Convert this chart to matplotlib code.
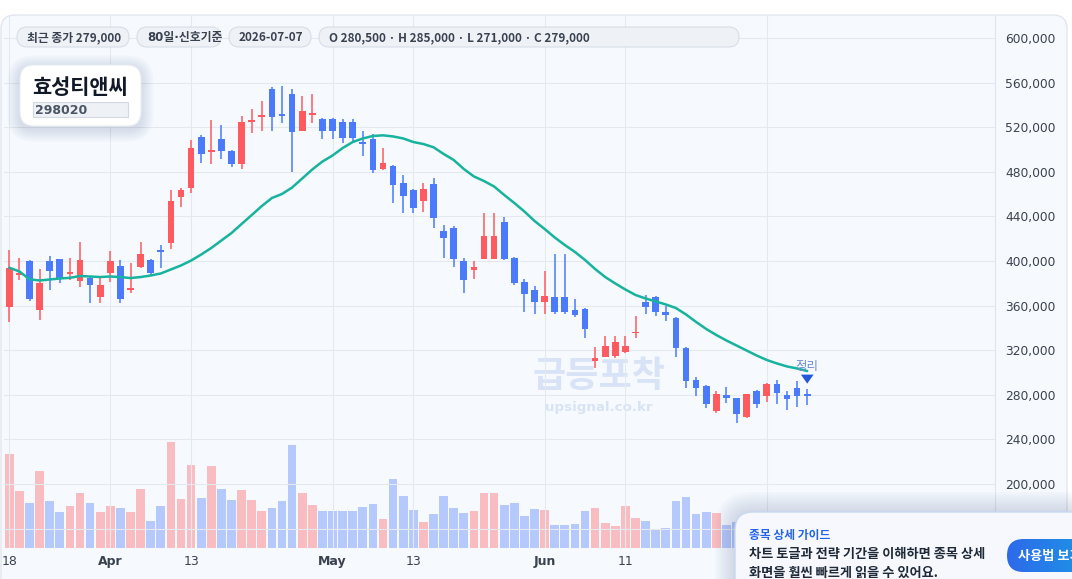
import numpy as np
import pandas as pd
import matplotlib
matplotlib.use('Agg')
import matplotlib.pyplot as plt
from matplotlib.patches import FancyBboxPatch, Rectangle
from matplotlib.colors import LinearSegmentedColormap
from matplotlib.ticker import FuncFormatter

KR = ['Noto Sans CJK KR', 'DejaVu Sans']

# 80 trading days, 2026-03-18 .. 2026-07-07
dates = pd.bdate_range('2026-03-18', '2026-07-07')

opens = [359000, 387400, 400000, 356000, 400000, 401800, 388500, 382300, 385000, 368000,
         389500, 395500, 374000, 394900, 400900, 409400, 416400, 457100, 465700, 510900,
         498000, 509100, 498600, 486700, 525100, 529100, 554300, 531500, 549800, 516900,
         531400, 527100, 527100, 524700, 524700, 506700, 509400, 482200, 485200, 469700,
         463700, 453800, 469100, 426900, 429600, 400000, 392200, 401800, 401800, 435200,
         402900, 381200, 374000, 362900, 367400, 367400, 356000, 356900, 310600, 314200,
         314800, 318600, 335100, 363500, 368000, 354500, 349100, 322200, 293300, 287900,
         265700, 279800, 276800, 259800, 283400, 279200, 289700, 279800, 286400, 280500]
highs = [409900, 402400, 400500, 392800, 404500, 402200, 402900, 417000, 386000, 384500,
         408900, 400900, 397900, 417000, 401500, 414300, 463700, 465700, 508500, 513000,
         526500, 522000, 499500, 530000, 536000, 543500, 556000, 557000, 554300, 548000,
         549800, 528000, 528500, 527100, 527100, 516600, 513600, 501300, 486100, 477100,
         464600, 470200, 474700, 432300, 431400, 402400, 400300, 443300, 443300, 439700,
         403500, 384100, 377600, 391300, 406300, 406300, 365900, 357500, 322600, 332700,
         332700, 332700, 350700, 369500, 368500, 359900, 349500, 322500, 295700, 288800,
         283400, 286700, 277500, 281000, 284300, 290300, 293300, 283400, 292400, 285000]
lows = [345600, 382900, 364400, 347100, 374000, 380500, 382900, 376400, 362600, 362600,
        381400, 362000, 371600, 394000, 386500, 394000, 410500, 448700, 460700, 487600,
        486700, 491200, 484000, 482800, 514500, 516900, 516900, 523500, 480100, 516500,
        524000, 509700, 509700, 506100, 506100, 494200, 479200, 481600, 452300, 443300,
        442800, 444200, 429900, 402900, 394900, 371600, 384100, 401500, 401500, 400900,
        378500, 354500, 352200, 352200, 352200, 352200, 349500, 331200, 304300, 313500,
        312700, 317200, 331200, 352200, 350900, 346400, 314200, 286400, 279200, 267900,
        263400, 272900, 254400, 259500, 267900, 273800, 271700, 266400, 269300, 271000]
closes = [393400, 388800, 365900, 380500, 391300, 385000, 389500, 400900, 378500, 378500,
          400000, 365600, 375500, 406300, 388900, 408500, 453800, 463700, 501300, 495700,
          499500, 498900, 486700, 524700, 525800, 530700, 529400, 530000, 516000, 534500,
          532700, 516900, 516900, 510600, 510600, 504700, 481600, 488200, 468200, 458300,
          447800, 464600, 438800, 420900, 402100, 383200, 394300, 422400, 422400, 401500,
          380500, 370100, 362900, 368600, 354500, 354500, 351600, 339300, 313300, 323800,
          327300, 323800, 336600, 359000, 354000, 351800, 322200, 292600, 286400, 271500,
          280400, 276800, 262500, 280400, 271500, 289700, 281900, 276500, 279200, 279000]
ma20 = [394000, 390600, 383600, 382500, 383400, 384300, 384900, 386500, 386100, 385600,
        386100, 385600, 384700, 385600, 387000, 388800, 392400, 396000, 400400, 405800,
        411700, 418400, 425100, 433200, 441200, 449300, 456500, 460100, 465900, 474000,
        482100, 489200, 494600, 501300, 506700, 509900, 512100, 512700, 511700, 509900,
        506700, 504900, 502000, 496000, 490600, 482500, 475800, 471700, 466800, 459200,
        452000, 444400, 435900, 428700, 421100, 414300, 408100, 400900, 392800, 385600,
        379800, 374400, 369500, 366400, 363700, 361000, 357800, 352000, 345300, 339000,
        333600, 328700, 324200, 319700, 315200, 311200, 308100, 305400, 303600, 301300]
volumes = [188000, 114000, 90000, 154000, 94000, 72000, 84000, 110000, 90000, 72000,
           84000, 80000, 72000, 118000, 54000, 84000, 212000, 98000, 166000, 100000,
           164000, 118000, 96000, 116000, 96000, 74000, 80000, 94000, 206000, 110000,
           86000, 74000, 74000, 74000, 74000, 82000, 88000, 58000, 138000, 104000,
           76000, 52000, 68000, 104000, 80000, 70000, 74000, 110000, 110000, 86000,
           90000, 64000, 78000, 76000, 46000, 46000, 48000, 74000, 80000, 50000,
           44000, 84000, 60000, 54000, 38000, 40000, 94000, 102000, 68000, 72000,
           70000, 46000, 52000, 60000, 68000, 56000, 64000, 60000, 50000, 44000]

# the Jul label sits under the guide popup, so only its grid line shows
tick_idx = [0, 10, 18, 32, 40, 53, 61, 75]
tick_lbl = ['18', 'Apr', '13', 'May', '13', 'Jun', '11', '']
price_ticks = list(range(160000, 600001, 40000))

badges = ['최근 종가 279,000', '80일·신호기준', '2026-07-07',
          'O 280,500 · H 285,000 · L 271,000 · C 279,000']

RED = '#FF5A5F'
BLUE = '#4B7BFA'
TEAL = '#17B39E'
BG = '#F6F9FE'

W, H = 1072, 579
fig = plt.figure(figsize=(W / 100, H / 100), dpi=100)
fig.patch.set_facecolor('white')


def px_axes(z):
    a = fig.add_axes([0, 0, 1, 1], zorder=z)
    a.set_xlim(0, W)
    a.set_ylim(H, 0)
    a.axis('off')
    return a


def shadow(a, x, y, w, h, r, layers=6, step=1.6, alpha=0.02, dy=2, z=1):
    for k in range(layers, 0, -1):
        p = k * step
        a.add_patch(FancyBboxPatch((x - p, y - p + dy), w + 2 * p, h + 2 * p,
                                   boxstyle=f'round,pad=0,rounding_size={r + p}',
                                   fc='#1e3a6e', ec='none', alpha=alpha, zorder=z))


# background panel + watermark
bg = px_axes(-1)
bg.add_patch(FancyBboxPatch((1, 15), 1066, 640, boxstyle='round,pad=0,rounding_size=14',
                            fc=BG, ec='#E1E6EE', lw=1))
bg.text(599, 377, '급등포착', family=KR, fontsize=26, fontweight='bold',
        color='#D8E3F7', ha='center', va='center')
bg.text(599, 407, 'upsignal.co.kr', fontsize=9.6, fontweight='bold',
        color='#D8E3F7', ha='center', va='center')

x = np.arange(len(opens))
o = np.array(opens, float)
hi = np.array(highs, float)
lo = np.array(lows, float)
c = np.array(closes, float)
colors = np.where(c >= o, RED, BLUE)

rect = [4 / W, 1 - 548 / H, 991 / W, 532 / H]
xlim = (-0.525, 97.59)

# volume
axv = fig.add_axes(rect, zorder=0)
axv.bar(x, volumes, width=0.86, color=colors, alpha=0.38, linewidth=0)
axv.set_xlim(*xlim)
axv.set_ylim(0, 532 * 2000)
axv.axis('off')

# price
ax = fig.add_axes(rect, zorder=1)
ax.set_facecolor('none')
ax.set_xlim(*xlim)
ax.set_ylim(142580, 619730)
ax.vlines(x, lo, hi, colors=colors, lw=1.1, zorder=3)
body = np.maximum(np.abs(c - o), 1600)
mid = (o + c) / 2
ax.bar(x, body, bottom=mid - body / 2, width=0.66, color=colors, linewidth=0, zorder=4)
ax.plot(x, ma20, color=TEAL, lw=1.8, zorder=5, solid_capstyle='round')

ax.annotate('', xy=(x[-1], 287500), xytext=(x[-1], 299000),
            arrowprops=dict(arrowstyle='simple,head_length=0.5,head_width=0.7,tail_width=0.3',
                            mutation_scale=13, color='#2557DC', lw=0), zorder=6)
ax.text(x[-1], 305000, '정리', family=KR, fontsize=9, color='#6F8DDA',
        ha='center', va='center', zorder=6)

ax.set_yticks(price_ticks)
ax.yaxis.tick_right()
ax.yaxis.set_major_formatter(FuncFormatter(lambda v, p: f'{int(v):,}'))
ax.tick_params(axis='y', length=0, pad=7.5, labelsize=8.8, labelcolor='#3A4250')
ax.set_xticks(tick_idx)
ax.set_xticklabels(tick_lbl)
ax.tick_params(axis='x', length=0, pad=5, labelsize=9, labelcolor='#3A4250')
for t in ax.get_xticklabels():
    if t.get_text().isalpha():
        t.set_fontweight('bold')
ax.grid(True, color='#E4E8EF', lw=0.8)
ax.set_axisbelow(True)
for s in ['top', 'left', 'bottom']:
    ax.spines[s].set_visible(False)
ax.spines['right'].set_color('#E1E6EE')

# overlays
ov = px_axes(5)
bx = [(17, 129), (137, 221), (229, 311), (319, 739)]
for (x0, x1), txt in zip(bx, badges):
    ov.add_patch(FancyBboxPatch((x0, 27), x1 - x0, 20, boxstyle='round,pad=0,rounding_size=10',
                                fc='#EEF1F6', ec='#D8DEE7', lw=0.8))
    fam = ['DejaVu Sans', 'Noto Sans CJK KR'] if '일' in txt else KR
    ov.text(x0 + 10, 37.5, txt, family=fam, fontsize=8.5, fontweight='bold',
            color='#3A4250', ha='left', va='center')

shadow(ov, 20, 65, 121, 61, 14, layers=7, step=1.8, alpha=0.018, dy=3)
ov.add_patch(FancyBboxPatch((20, 65), 121, 61, boxstyle='round,pad=0,rounding_size=14',
                            fc='white', ec='#E8ECF2', lw=0.8))
ov.text(32, 87, '효성티앤씨', family=KR, fontsize=15, fontweight='bold',
        color='#111827', ha='left', va='center')
ov.add_patch(Rectangle((33, 102), 95, 15, fc='#EEF1F5', ec='#D3D9E1', lw=0.8))
ov.text(35, 110, '298020', fontsize=9, fontweight='bold', color='#4B5563',
        ha='left', va='center')

# guide popup
shadow(ov, 735, 512, 400, 120, 18, layers=8, step=2.5, alpha=0.02, dy=0, z=6)
ov.add_patch(FancyBboxPatch((735, 512), 400, 120, boxstyle='round,pad=0,rounding_size=18',
                            fc='#F6F8FE', ec='#C8D7F4', lw=1.0, zorder=7))
ov.text(749, 535, '종목 상세 가이드', family=KR, fontsize=8.5, fontweight='bold',
        color='#2563EB', ha='left', va='center', zorder=8)
ov.text(749, 554, '차트 토글과 전략 기간을 이해하면 종목 상세', family=KR, fontsize=9.5,
        fontweight='bold', color='#1F2937', ha='left', va='center', zorder=8)
ov.text(749, 573, '화면을 훨씬 빠르게 읽을 수 있어요.', family=KR, fontsize=9.5,
        fontweight='bold', color='#1F2937', ha='left', va='center', zorder=8)
btn = FancyBboxPatch((1007, 539), 120, 33, boxstyle='round,pad=0,rounding_size=16.5',
                     fc='none', ec='none', zorder=8)
ov.add_patch(btn)
grad = np.linspace(0, 1, 256).reshape(1, -1)
cmap = LinearSegmentedColormap.from_list('btn', ['#2D6AEA', '#16A8E6'])
im = ov.imshow(grad, extent=(1007, 1127, 572, 539), cmap=cmap, aspect='auto', zorder=8)
im.set_clip_path(btn)
ov.set_xlim(0, W)
ov.set_ylim(H, 0)
ov.text(1018, 556, '사용법 보기', family=KR, fontsize=9.5, fontweight='bold',
        color='white', ha='left', va='center', zorder=9)

fig.savefig('out.png', dpi=100, facecolor=fig.get_facecolor())
